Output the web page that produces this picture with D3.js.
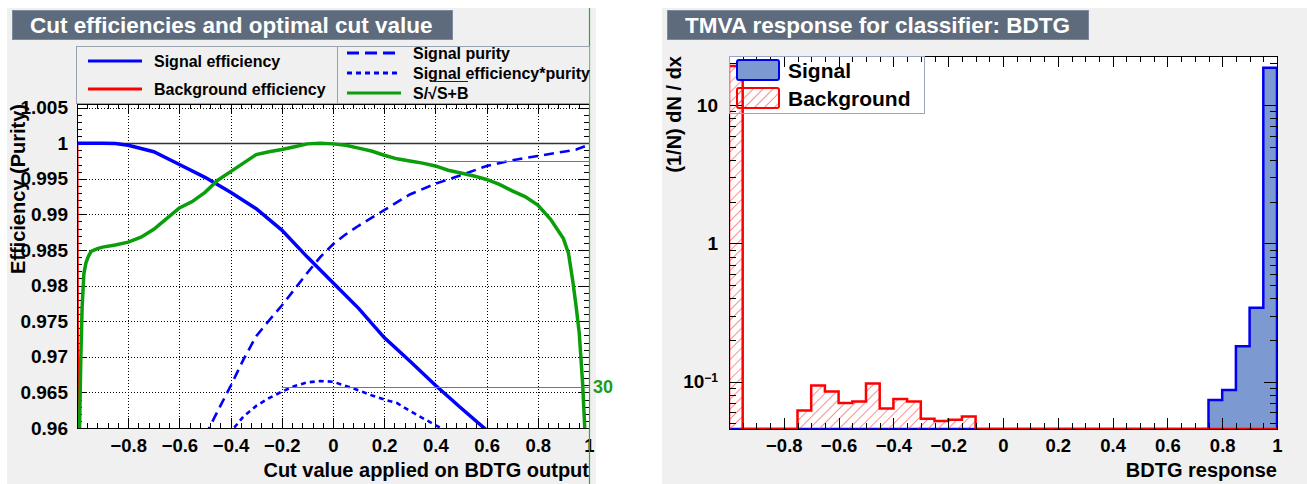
<!DOCTYPE html>
<html><head><meta charset="utf-8">
<script src="https://cdn.jsdelivr.net/npm/d3@7"></script>
<style>
body{margin:0;background:#fff;}
svg{display:block;}
text{font-family:"Liberation Sans",Arial,Helvetica,sans-serif;font-weight:bold;}
</style>
</head><body>
<svg id="c" width="1307" height="484"></svg>
<script>
// ---------------- DATA ----------------
// Left: cut efficiencies vs cut value
const effX     = [-1.0,-0.9,-0.85,-0.8,-0.7,-0.6,-0.5,-0.4,-0.3,-0.2,-0.1,0.0,0.1,0.2,0.3,0.4,0.5,0.6,0.62];
const sigEffY  = [1.0,1.0,0.99995,0.9997,0.9988,0.9970,0.9952,0.9931,0.9908,0.9878,0.9840,0.9804,0.9768,0.9727,0.9694,0.9660,0.9628,0.9597,0.9590];
const purX     = [-0.5,-0.484,-0.44,-0.4,-0.35,-0.3,-0.25,-0.2,-0.15,-0.1,-0.05,0,0.05,0.1,0.15,0.2,0.3,0.4,0.5,0.6,0.7,0.8,0.9,0.95,1.0];
const sigPurY  = [0.9589,0.9600,0.9631,0.9659,0.9696,0.9729,0.9751,0.9772,0.9795,0.9818,0.9840,0.9858,0.9872,0.9884,0.9895,0.9906,0.9928,0.9943,0.9955,0.9968,0.9976,0.9982,0.9988,0.9991,0.9998];
const effPurX  = [-0.4,-0.387,-0.35,-0.3,-0.25,-0.2,-0.15,-0.1,-0.05,0,0.05,0.1,0.15,0.2,0.25,0.3,0.35,0.4,0.422,0.44];
const effPurY  = [0.9589,0.9600,0.9616,0.9631,0.9642,0.9651,0.9659,0.9664,0.9666,0.9665,0.9659,0.9653,0.9646,0.9640,0.9635,0.9624,0.9614,0.9604,0.9600,0.9594];
const sigX     = [-0.991,-0.985,-0.98,-0.973,-0.965,-0.957,-0.945,-0.92,-0.9,-0.85,-0.8,-0.75,-0.7,-0.65,-0.6,-0.55,-0.5,-0.45,-0.4,-0.35,-0.3,-0.25,-0.2,-0.15,-0.1,-0.05,0,0.05,0.1,0.15,0.2,0.25,0.3,0.35,0.4,0.45,0.5,0.55,0.6,0.65,0.7,0.75,0.8,0.85,0.9,0.92,0.936,0.95,0.962,0.975,0.982,0.985];
const sigSignY = [0.9580,0.9700,0.9770,0.9817,0.9832,0.9840,0.9848,0.9852,0.9854,0.9857,0.9861,0.9868,0.9879,0.9894,0.9909,0.9918,0.9931,0.9948,0.9960,0.9972,0.9984,0.9988,0.9991,0.9995,0.9999,1.0000,0.9999,0.9997,0.9993,0.9989,0.9983,0.9978,0.9975,0.9972,0.9968,0.9962,0.9958,0.9954,0.9949,0.9942,0.9933,0.9925,0.9913,0.9893,0.9866,0.9845,0.9808,0.9770,0.9733,0.9663,0.9611,0.9585];
const bgEffX   = [-1.0,-0.998,-0.995,-0.99,-0.98,-0.9,0,1.0];
const bgEffY   = [1.0,0.97,0.8,0.5,0.2,0.02,0,0];
const cutXTicks = [-0.8,-0.6,-0.4,-0.2,0,0.2,0.4,0.6,0.8,1];
const effYTicks = [0.96,0.965,0.97,0.975,0.98,0.985,0.99,0.995,1,1.005];
const effYLabels = ["0.96","0.965","0.97","0.975","0.98","0.985","0.99","0.995","1","1.005"];
const sigAxisLevels = [0.9975,0.9658];   // right (green) axis tick levels
const sigAxisStart  = [0.41,-0.2];
const sigAxisLabels = ["","30"];

// Right: classifier response histograms
const binLow = [-1,-0.95,-0.9,-0.85,-0.8,-0.75,-0.7,-0.65,-0.6,-0.55,-0.5,-0.45,-0.4,-0.35,-0.3,-0.25,-0.2,-0.15,-0.1,-0.05,0,0.05,0.1,0.15,0.2,0.25,0.3,0.35,0.4,0.45,0.5,0.55,0.6,0.65,0.7,0.75,0.8,0.85,0.9,0.95];
const binHigh = [-0.95,-0.9,-0.85,-0.8,-0.75,-0.7,-0.65,-0.6,-0.55,-0.5,-0.45,-0.4,-0.35,-0.3,-0.25,-0.2,-0.15,-0.1,-0.05,0,0.05,0.1,0.15,0.2,0.25,0.3,0.35,0.4,0.45,0.5,0.55,0.6,0.65,0.7,0.75,0.8,0.85,0.9,0.95,1];
const signalHist = [0,0,0,0,0,0,0,0,0,0,0,0,0,0,0,0,0,0,0,0,0,0,0,0,0,0,0,0,0,0,0,0,0,0,0,0.0737,0.0872,0.18,0.342,18.6];
const backgroundHist = [19.1,0,0,0,0,0.062,0.094,0.085,0.070,0.072,0.097,0.064,0.075,0.072,0.054,0.052,0.053,0.056,0,0,0,0,0,0,0,0,0,0,0,0,0,0,0,0,0,0,0,0,0,0];
const respXTicks = [-0.8,-0.6,-0.4,-0.2,0,0.2,0.4,0.6,0.8,1];
const respYTicks = [0.1,1,10];

// ---------------- DRAW ----------------
const svg = d3.select('#c');
const defs = svg.append('defs');
const minus = s => s.replace('-', '\u2212');
const fmtX = d => minus(d3.format('')(+d.toFixed(1)));
const px = v => Math.round(v) + 0.5;

// canvases
svg.append('rect').attr('x',7).attr('y',8).attr('width',589).attr('height',476).attr('fill','#f0f0f0');
svg.append('rect').attr('x',662).attr('y',8).attr('width',645).attr('height',476).attr('fill','#f0f0f0');

function titleBox(x,w,txt){
  svg.append('rect').attr('x',x+0.5).attr('y',10.5).attr('width',w).attr('height',29)
     .attr('fill','#5d6b7d').attr('stroke','#7d8b9d').attr('stroke-width',1);
  svg.append('text').attr('x',x+18).attr('y',25).attr('dominant-baseline','central')
     .attr('fill','#fff').attr('font-size',22.5).text(txt);
}
titleBox(12,440,'Cut efficiencies and optimal cut value');
titleBox(667,421,'TMVA response for classifier: BDTG');

function styleAxis(g, fs){
  g.select('.domain').remove();
  g.selectAll('line').attr('stroke','#000').attr('stroke-width',1).attr('shape-rendering','crispEdges');
  g.selectAll('text').attr('font-size',fs).attr('fill','#000').attr('font-family',null);
}

// ===== LEFT PLOT =====
const L = {x0:77,x1:589,y0:104,y1:428};
const xL = d3.scaleLinear().domain([-1,1]).range([L.x0,L.x1]);
const yL = d3.scaleLinear().domain([0.96,1.0055]).range([L.y1,L.y0]);
svg.append('rect').attr('x',L.x0).attr('y',L.y0).attr('width',L.x1-L.x0).attr('height',L.y1-L.y0).attr('fill','#fff');
defs.append('clipPath').attr('id','clipL').append('rect').attr('x',L.x0).attr('y',L.y0).attr('width',L.x1-L.x0).attr('height',L.y1-L.y0);

// grid (dotted)
const gridL = svg.append('g');
gridL.selectAll('.gx').data(cutXTicks.filter(d=>d<1)).enter().append('line')
  .attr('x1',d=>px(xL(d))).attr('x2',d=>px(xL(d))).attr('y1',L.y0).attr('y2',L.y1)
  .attr('stroke','#000').attr('stroke-width',1).attr('stroke-dasharray','1,2');
gridL.selectAll('.gy').data(effYTicks).enter().append('line')
  .attr('y1',d=>px(yL(d))).attr('y2',d=>px(yL(d))).attr('x1',L.x0).attr('x2',L.x1)
  .attr('stroke','#000').attr('stroke-width',1).attr('stroke-dasharray','1,2');

// axes
const minorX = d3.range(-0.96,1.0,0.04);
const minorY = d3.range(0.961,1.0055,0.001).filter(v=>Math.abs(v/0.005-Math.round(v/0.005))>0.01);
svg.append('g').attr('transform',`translate(0,${L.y1})`)
  .call(d3.axisBottom(xL).tickValues(cutXTicks).tickFormat(fmtX).tickSizeInner(-10).tickSizeOuter(0).tickPadding(11))
  .call(g=>styleAxis(g,18.5));
svg.append('g').attr('transform',`translate(0,${L.y1})`)
  .call(d3.axisBottom(xL).tickValues(minorX).tickFormat('').tickSizeInner(-5).tickSizeOuter(0)).call(g=>styleAxis(g,18));
svg.append('g').attr('transform',`translate(0,${L.y0})`)
  .call(d3.axisTop(xL).tickValues(cutXTicks).tickFormat('').tickSizeInner(-10).tickSizeOuter(0)).call(g=>styleAxis(g,18));
svg.append('g').attr('transform',`translate(0,${L.y0})`)
  .call(d3.axisTop(xL).tickValues(minorX).tickFormat('').tickSizeInner(-5).tickSizeOuter(0)).call(g=>styleAxis(g,18));
svg.append('g').attr('transform',`translate(${L.x0},0)`)
  .call(d3.axisLeft(yL).tickValues(effYTicks).tickFormat((d,i)=>effYLabels[i]).tickSizeInner(-10).tickSizeOuter(0).tickPadding(9))
  .call(g=>styleAxis(g,19));
svg.append('g').attr('transform',`translate(${L.x0},0)`)
  .call(d3.axisLeft(yL).tickValues(minorY).tickFormat('').tickSizeInner(-5).tickSizeOuter(0)).call(g=>styleAxis(g,18));
svg.append('g').attr('transform',`translate(${L.x1},0)`)
  .call(d3.axisRight(yL).tickValues(effYTicks).tickFormat('').tickSizeInner(-10).tickSizeOuter(0)).call(g=>styleAxis(g,18));
svg.append('g').attr('transform',`translate(${L.x1},0)`)
  .call(d3.axisRight(yL).tickValues(minorY).tickFormat('').tickSizeInner(-5).tickSizeOuter(0)).call(g=>styleAxis(g,18));

// line at 1
svg.append('line').attr('x1',L.x0).attr('x2',L.x1).attr('y1',px(yL(1))).attr('y2',px(yL(1))).attr('stroke','#333').attr('stroke-width',1.5);

// curves
const curvesG = svg.append('g').attr('clip-path','url(#clipL)');
const lineL = d3.line().x(d=>xL(d[0])).y(d=>yL(d[1]));
const zip = (a,b)=>a.map((v,i)=>[v,b[i]]);
curvesG.append('path').attr('d',lineL(zip(bgEffX,bgEffY))).attr('fill','none').attr('stroke','#ff0000').attr('stroke-width',3);
curvesG.append('path').attr('d',lineL(zip(purX,sigPurY))).attr('fill','none').attr('stroke','#0000ff').attr('stroke-width',2.6).attr('stroke-dasharray','10,6');
curvesG.append('path').attr('d',lineL(zip(effPurX,effPurY))).attr('fill','none').attr('stroke','#0000ff').attr('stroke-width',2.6).attr('stroke-dasharray','5,4');
curvesG.append('path').attr('d',lineL(zip(effX,sigEffY))).attr('fill','none').attr('stroke','#0000ff').attr('stroke-width',3.5);
curvesG.append('path').attr('d',lineL(zip(sigX,sigSignY))).attr('fill','none').attr('stroke','#0a9e0a').attr('stroke-width',3.5);

// frame
svg.append('rect').attr('x',L.x0+0.5).attr('y',L.y0+0.5).attr('width',L.x1-L.x0).attr('height',L.y1-L.y0).attr('fill','none').attr('stroke','#000').attr('stroke-width',1);

// green significance axis
svg.append('line').attr('x1',L.x1+0.5).attr('x2',L.x1+0.5).attr('y1',8).attr('y2',484).attr('stroke','#2fa82f').attr('stroke-width',1.2);
sigAxisLevels.forEach((v,i)=>{
  svg.append('line').attr('x1',xL(sigAxisStart[i])).attr('x2',L.x1).attr('y1',px(yL(v))).attr('y2',px(yL(v)))
    .attr('stroke','#2fa82f').attr('stroke-width',1.2);
  if(sigAxisLabels[i]) svg.append('text').attr('x',L.x1+4).attr('y',yL(v)).attr('dominant-baseline','central')
    .attr('fill','#1a9e1a').attr('font-size',18).text(sigAxisLabels[i]);
});

// axis titles
svg.append('text').attr('x',L.x1).attr('y',477).attr('text-anchor','end').attr('font-size',20).text('Cut value applied on BDTG output');
svg.append('text').attr('transform',`translate(25,${L.y0}) rotate(-90)`).attr('text-anchor','end').attr('font-size',20).text('Efficiency (Purity)');

// left legend
const lg = svg.append('g');
lg.append('rect').attr('x',76.5).attr('y',46.5).attr('width',513).attr('height',57).attr('fill','#f0f0f0').attr('stroke','#9aa2ad');
lg.append('line').attr('x1',337.5).attr('x2',337.5).attr('y1',46.5).attr('y2',103.5).attr('stroke','#9aa2ad');
const legL = [
  {x:88,y:61,txt:'Signal efficiency',c:'#0000ff',dash:null},
  {x:88,y:89,txt:'Background efficiency',c:'#ff0000',dash:null},
  {x:347,y:53,txt:'Signal purity',c:'#0000ff',dash:'12,6'},
  {x:347,y:73,txt:'Signal efficiency*purity',c:'#0000ff',dash:'5,4'},
  {x:347,y:93,txt:'S/\u221AS+B',c:'#0a9e0a',dash:null}
];
legL.forEach(e=>{
  lg.append('line').attr('x1',e.x).attr('x2',e.x+54).attr('y1',e.y).attr('y2',e.y).attr('stroke',e.c).attr('stroke-width',3).attr('stroke-dasharray',e.dash);
  lg.append('text').attr('x',e.x+66).attr('y',e.y).attr('dominant-baseline','central').attr('font-size',16).text(e.txt);
});
lg.append('line').attr('x1',430).attr('x2',468).attr('y1',81.5).attr('y2',81.5).attr('stroke','#222').attr('stroke-width',1);

// ===== RIGHT PLOT =====
const R = {x0:729,x1:1277,y0:56,y1:429};
const xR = d3.scaleLinear().domain([-1,1]).range([R.x0,R.x1]);
const yR = d3.scaleLog().domain([0.0455,22.6]).range([R.y1,R.y0]);
svg.append('rect').attr('x',R.x0).attr('y',R.y0).attr('width',R.x1-R.x0).attr('height',R.y1-R.y0).attr('fill','#fff');
defs.append('clipPath').attr('id','clipR').append('rect').attr('x',R.x0).attr('y',R.y0).attr('width',R.x1-R.x0).attr('height',R.y1-R.y0);
const hp = defs.append('pattern').attr('id','hatch').attr('patternUnits','userSpaceOnUse').attr('width',7).attr('height',7).attr('patternTransform','rotate(45)');
hp.append('line').attr('x1',0).attr('y1',0).attr('x2',0).attr('y2',7).attr('stroke','#ff3030').attr('stroke-width',1.1);

function stepPts(vals){
  const lo = yR.domain()[0];
  const yy = v => v>lo ? yR(v) : R.y1;
  const pts = [[R.x0,R.y1]];
  vals.forEach((v,i)=>{ pts.push([xR(binLow[i]),yy(v)]); pts.push([xR(binHigh[i]),yy(v)]); });
  pts.push([R.x1,R.y1]);
  return pts;
}
const lineR = d3.line();
const hg = svg.append('g').attr('clip-path','url(#clipR)');
const sp = stepPts(signalHist);
hg.append('path').attr('d',lineR(sp)+'Z').attr('fill','#7d99d1').attr('stroke','none');
hg.append('path').attr('d',lineR(sp)).attr('fill','none').attr('stroke','#0000ee').attr('stroke-width',2.5);
const bp = stepPts(backgroundHist);
hg.append('path').attr('d',lineR(bp)+'Z').attr('fill','url(#hatch)').attr('stroke','none');
hg.append('path').attr('d',lineR(bp)).attr('fill','none').attr('stroke','#ff0000').attr('stroke-width',2.5);

// axes
const minorXR = d3.range(-0.95,1.0,0.05);
const minorYR = [0.05,0.06,0.07,0.08,0.09,0.2,0.3,0.4,0.5,0.6,0.7,0.8,0.9,2,3,4,5,6,7,8,9,20];
svg.append('g').attr('transform',`translate(0,${R.y1})`)
  .call(d3.axisBottom(xR).tickValues(respXTicks).tickFormat(fmtX).tickSizeInner(-11).tickSizeOuter(0).tickPadding(10))
  .call(g=>styleAxis(g,18.5));
svg.append('g').attr('transform',`translate(0,${R.y1})`)
  .call(d3.axisBottom(xR).tickValues(minorXR).tickFormat('').tickSizeInner(-6).tickSizeOuter(0)).call(g=>styleAxis(g,18));
svg.append('g').attr('transform',`translate(0,${R.y0})`)
  .call(d3.axisTop(xR).tickValues(respXTicks).tickFormat('').tickSizeInner(-11).tickSizeOuter(0)).call(g=>styleAxis(g,18));
svg.append('g').attr('transform',`translate(0,${R.y0})`)
  .call(d3.axisTop(xR).tickValues(minorXR).tickFormat('').tickSizeInner(-6).tickSizeOuter(0)).call(g=>styleAxis(g,18));
const yAxR = svg.append('g').attr('transform',`translate(${R.x0},0)`)
  .call(d3.axisLeft(yR).tickValues(respYTicks).tickFormat(d=>d===1?'1':'10').tickSizeInner(-13).tickSizeOuter(0).tickPadding(11))
  .call(g=>styleAxis(g,19));
yAxR.selectAll('.tick text').filter(d=>d===0.1).each(function(){
  const t = d3.select(this); t.text('');
  t.append('tspan').text('10');
  t.append('tspan').attr('font-size',12).attr('dy','-0.55em').text('\u22121');
});
svg.append('g').attr('transform',`translate(${R.x0},0)`)
  .call(d3.axisLeft(yR).tickValues(minorYR).tickFormat('').tickSizeInner(-7).tickSizeOuter(0)).call(g=>styleAxis(g,18));
svg.append('g').attr('transform',`translate(${R.x1},0)`)
  .call(d3.axisRight(yR).tickValues(respYTicks).tickFormat('').tickSizeInner(-13).tickSizeOuter(0)).call(g=>styleAxis(g,18));
svg.append('g').attr('transform',`translate(${R.x1},0)`)
  .call(d3.axisRight(yR).tickValues(minorYR).tickFormat('').tickSizeInner(-7).tickSizeOuter(0)).call(g=>styleAxis(g,18));

svg.append('rect').attr('x',R.x0+0.5).attr('y',R.y0+0.5).attr('width',R.x1-R.x0).attr('height',R.y1-R.y0).attr('fill','none').attr('stroke','#000').attr('stroke-width',1);

svg.append('text').attr('x',R.x1).attr('y',477).attr('text-anchor','end').attr('font-size',20).text('BDTG response');
svg.append('text').attr('transform',`translate(681,${R.y0}) rotate(-90)`).attr('text-anchor','end').attr('font-size',20).text('(1/N) dN / dx');

// right legend
const rg = svg.append('g');
rg.append('rect').attr('x',729.5).attr('y',56.5).attr('width',195).attr('height',57).attr('fill','none').attr('stroke','#9aa6bd');
rg.append('rect').attr('x',737).attr('y',60).attr('width',42).attr('height',20).attr('rx',2).attr('fill','#7d99d1').attr('stroke','#0000ee').attr('stroke-width',2);
rg.append('rect').attr('x',737).attr('y',88).attr('width',42).attr('height',20).attr('rx',2).attr('fill','url(#hatch)').attr('stroke','#ff0000').attr('stroke-width',2);
rg.append('text').attr('x',788).attr('y',70).attr('dominant-baseline','central').attr('font-size',21).text('Signal');
rg.append('text').attr('x',788).attr('y',98).attr('dominant-baseline','central').attr('font-size',21).text('Background');
</script>
</body></html>
